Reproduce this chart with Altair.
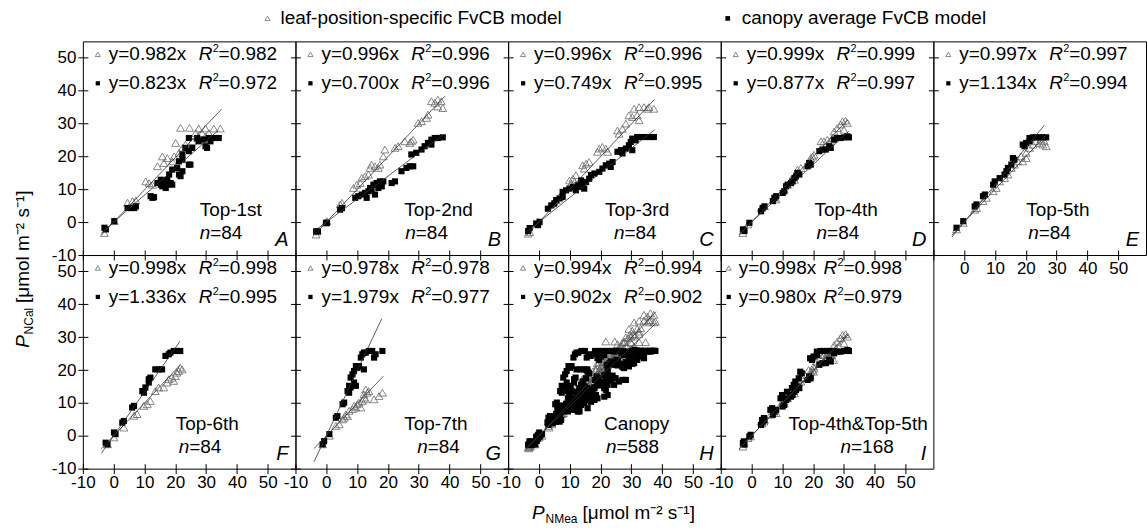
import altair as alt
import pandas as pd

# ---------------- values ----------------
PANELS = ["A", "B", "C", "D", "E", "F", "G", "H", "I"]
POSITIONS = ["Top-1st", "Top-2nd", "Top-3rd", "Top-4th", "Top-5th",
             "Top-6th", "Top-7th", "Canopy", "Top-4th&Top-5th"]
N_OBS = [84, 84, 84, 84, 84, 84, 84, 588, 168]
SLOPE_LEAF = [0.982, 0.996, 0.996, 0.999, 0.997, 0.998, 0.978, 0.994, 0.998]
R2_LEAF = [0.982, 0.996, 0.996, 0.999, 0.997, 0.998, 0.978, 0.994, 0.998]
SLOPE_CAN = [0.823, 0.700, 0.749, 0.877, 1.134, 1.336, 1.979, 0.902, 0.980]
R2_CAN = [0.972, 0.996, 0.995, 0.997, 0.994, 0.995, 0.977, 0.902, 0.979]
FIT_START = [-4, -4, -4, -4, -4, -4, -4, -4, -4]
FIT_END_LEAF = [35, 38.5, 37.5, 31, 26.5, 21.5, 18.5, 38, 31]
FIT_END_CAN = [34, 38, 37.5, 31.5, 26, 21.5, 18, 38, 31.5]
X_TICKS = [-10, 0, 10, 20, 30, 40, 50]
Y_TICKS = [-10, 0, 10, 20, 30, 40, 50]

A_TRI_X = [-3.0, 0.2, 4.5, 6.1, 7.2, 10.4, 11.5, 12.6, 14.2, 15.8, 16.3, 17.4, 19.0, 19.6, 20.1, 21.2, 22.3, 23.3,
           21.7, 24.6, 27.6, 29.8, 32.5, 34.6, 26.6, 28.7, 30.9, 25.5, 27.6, 29.8]
A_TRI_Y = [-3.3, 0.3, 5.9, 6.4, 6.6, 12.4, 11.9, 11.4, 17.0, 20.0, 18.0, 19.5, 18.5, 20.0, 24.1, 21.1, 22.6, 23.6,
           28.7, 28.7, 28.5, 28.5, 28.5, 28.5, 27.1, 27.1, 27.1, 24.6, 25.6, 26.1]
A_SQ_X = [-3.0, -2.5, 0.2, 4.5, 5.6, 6.7, 7.2, 12.0, 12.6, 13.1, 14.2, 15.3, 15.8, 16.9, 17.4, 18.5, 19.0, 16.3, 15.3,
          17.4, 18.0, 19.0, 20.6, 21.2, 22.3, 21.2, 22.3, 24.4, 24.9, 22.3, 24.4, 25.5, 23.3, 24.4, 27.1, 27.6, 29.2,
          30.9, 32.5, 34.1, 29.8, 30.3, 31.4, 21.7]
A_SQ_Y = [-1.7, -2.2, 0.3, 4.3, 4.3, 4.3, 4.8, 7.9, 7.4, 7.6, 11.9, 11.4, 10.9, 10.4, 11.4, 11.9, 11.4, 12.4, 12.9,
          12.9, 14.5, 16.0, 16.5, 18.5, 19.0, 14.5, 15.5, 17.5, 17.5, 20.6, 21.6, 22.6, 22.6, 25.6, 25.6, 24.6, 25.1,
          25.6, 25.6, 25.6, 23.1, 22.6, 24.6, 14.0]

B_TRI_X = [-3.3, -3.0, -0.3, 0.2, 5.1, 4.5, 8.8, 9.9, 11.0, 11.5, 12.6, 13.7, 14.2, 14.7, 15.8, 16.9, 17.4, 18.5, 19.0,
           22.3, 23.3, 25.5, 27.1, 28.2, 27.6, 29.8, 30.9, 32.5, 33.0, 34.1, 35.2, 36.2, 37.3, 37.8, 36.2]
B_TRI_Y = [-3.8, -2.8, -0.2, 0.3, 5.9, 5.4, 10.4, 11.4, 11.9, 13.5, 14.0, 14.5, 16.5, 17.5, 17.0, 16.5, 17.5, 20.0,
           22.1, 22.6, 23.1, 24.6, 24.1, 25.1, 24.6, 30.2, 30.7, 31.7, 32.7, 36.8, 36.3, 37.3, 36.8, 34.7, 35.2]
B_SQ_X = [-3.3, -2.7, -0.1, 0.2, 4.5, 5.1, 9.4, 10.4, 11.5, 12.6, 13.1, 13.7, 14.2, 14.7, 15.3, 15.8, 16.3, 16.9, 17.4,
          18.0, 18.5, 21.2, 22.3, 24.4, 26.0, 27.1, 28.2, 27.6, 29.2, 30.9, 31.9, 33.0, 34.1, 35.2, 36.2, 37.8, 34.1]
B_SQ_Y = [-2.8, -2.8, -0.2, -0.2, 3.8, 4.3, 7.4, 7.9, 8.4, 8.9, 7.4, 9.4, 10.4, 9.9, 11.4, 8.4, 11.9, 10.4, 12.4, 10.9,
          12.4, 11.9, 12.4, 15.5, 16.5, 17.0, 17.0, 20.6, 21.1, 22.1, 23.1, 24.1, 25.1, 25.6, 25.6, 25.8, 23.6]

C_TRI_X = [-3.5, -3.0, -0.3, 4.5, 5.6, 6.7, 9.9, 11.0, 11.5, 10.4, 12.0, 14.2, 15.3, 16.3, 14.7, 19.6, 20.6, 21.7,
           22.3, 19.0, 25.5, 27.1, 26.0, 28.2, 29.2, 30.3, 31.9, 32.5, 30.9, 32.5, 34.1, 35.7, 37.3, 35.2]
C_TRI_Y = [-3.5, -3.0, 0.1, 5.7, 6.7, 7.7, 12.7, 13.2, 12.2, 11.7, 14.3, 17.3, 17.8, 18.3, 16.3, 22.4, 22.9, 22.4,
           21.4, 21.4, 27.9, 28.4, 26.9, 30.0, 32.5, 32.0, 32.5, 31.0, 34.5, 35.0, 35.0, 35.0, 34.5, 34.5]
C_SQ_X = [-3.5, -3.0, -0.9, -0.3, 0.2, 2.9, 4.0, 5.0, 5.6, 6.7, 7.7, 7.7, 8.8, 9.9, 11.0, 12.0, 12.6, 13.1, 14.2, 14.7,
          13.7, 15.3, 16.3, 16.9, 18.0, 19.6, 20.6, 21.7, 22.8, 23.9, 23.3, 25.5, 26.6, 27.1, 28.2, 29.2, 29.8, 30.3,
          31.4, 31.9, 33.0, 34.6, 36.2, 37.3, 30.3]
C_SQ_Y = [-2.7, -1.8, -0.4, -0.9, 0.1, 4.1, 5.1, 5.7, 6.7, 7.2, 7.7, 9.2, 9.7, 10.2, 10.7, 9.7, 11.2, 10.7, 11.7, 10.2,
          12.7, 12.2, 13.2, 14.3, 14.8, 15.3, 16.3, 17.3, 17.8, 18.3, 16.8, 21.4, 21.9, 20.9, 22.4, 23.4, 24.4, 25.4,
          24.9, 25.9, 25.9, 25.9, 25.9, 25.9, 21.9]

D_TRI_X = [-2.8, -1.2, 3.1, 4.2, 7.4, 8.0, 10.6, 11.7, 12.8, 13.9, 14.9, 16.0, 18.2, 19.2, 19.8, 20.3, 22.5, 23.5,
           24.6, 25.7, 26.2, 26.8, 27.8, 28.9, 29.5, 30.5, 31.1, 30.0]
D_TRI_Y = [-3.3, -0.7, 4.3, 4.8, 7.4, 6.9, 9.9, 11.4, 12.9, 12.9, 16.0, 16.5, 17.5, 19.5, 20.0, 20.5, 24.6, 24.6,
           25.1, 24.6, 25.6, 27.6, 28.6, 29.7, 30.7, 30.9, 30.2, 28.1]
D_SQ_X = [-2.8, -2.3, -0.7, 3.1, 3.6, 4.2, 6.9, 7.4, 8.0, 10.1, 10.6, 11.2, 11.7, 12.8, 13.3, 13.9, 14.4, 14.9, 15.5,
          18.2, 18.7, 19.2, 22.0, 23.0, 24.1, 25.7, 25.2, 26.8, 27.8, 28.9, 30.0, 31.1, 31.6]
D_SQ_Y = [-2.2, -2.7, -0.2, 3.3, 4.3, 4.8, 6.4, 7.4, 7.9, 8.9, 9.4, 10.9, 11.4, 11.9, 12.4, 13.4, 13.9, 15.0, 14.5,
          17.0, 18.0, 17.5, 21.6, 22.1, 22.1, 22.6, 23.1, 25.1, 25.6, 25.6, 25.8, 26.1, 25.8]

E_TRI_X = [-2.5, -0.3, 3.4, 4.0, 6.1, 7.2, 9.4, 10.4, 11.5, 13.1, 14.2, 15.3, 16.3, 17.4, 18.5, 20.1, 21.2, 22.3,
           23.3, 24.4, 25.5, 24.9, 26.0, 26.6, 20.1, 19.0]
E_TRI_Y = [-2.2, -0.2, 3.8, 4.3, 6.4, 7.4, 9.4, 10.4, 12.4, 13.4, 14.5, 16.5, 17.5, 18.5, 20.0, 21.1, 22.6, 23.6,
           24.6, 24.1, 23.6, 25.1, 24.6, 23.1, 19.5, 18.5]
E_SQ_X = [-2.5, -0.3, 3.4, 4.0, 6.1, 6.7, 9.4, 9.9, 11.5, 13.1, 13.7, 14.2, 15.3, 16.3, 15.8, 19.0, 20.1, 19.6, 21.2,
          22.3, 23.3, 24.4, 25.5, 26.6, 21.2]
E_SQ_Y = [-1.7, 0.3, 4.8, 5.4, 7.9, 8.4, 11.4, 12.4, 13.4, 14.5, 15.5, 16.5, 17.5, 19.0, 19.5, 23.6, 24.1, 23.1, 25.6,
          25.8, 25.8, 25.8, 25.8, 25.8, 24.6]

F_TRI_X = [-2.0, 0.1, 3.3, 6.6, 7.6, 9.8, 10.9, 11.9, 13.5, 14.6, 16.2, 17.3, 17.9, 18.9, 20.0, 21.1, 21.6, 20.5, 19.5,
           22.2]
F_TRI_Y = [-2.6, -0.5, 2.5, 6.1, 6.6, 9.1, 9.6, 10.6, 13.6, 14.7, 14.7, 16.2, 17.2, 17.7, 18.2, 19.7, 20.7, 19.2, 16.7,
           20.2]
F_SQ_X = [-2.6, -2.0, 0.1, 0.6, 3.3, 2.8, 6.0, 6.6, 9.3, 9.8, 10.3, 11.4, 11.9, 11.4, 13.5, 14.6, 15.7, 16.8, 17.9,
          18.4, 19.5, 20.5, 21.6]
F_SQ_Y = [-2.1, -2.6, 1.0, 0.5, 4.5, 4.0, 8.6, 9.1, 13.6, 13.1, 14.7, 17.2, 17.7, 16.2, 20.2, 20.2, 20.2, 24.3, 24.8,
          25.3, 25.8, 25.8, 25.8]

G_TRI_X = [-1.2, 1.0, 3.1, 4.2, 5.3, 5.8, 6.9, 6.3, 7.4, 8.5, 9.0, 9.6, 10.1, 10.6, 11.2, 11.7, 12.2, 12.8, 12.2, 13.3,
           13.8, 12.8, 15.5, 17.1, 18.2]
G_TRI_Y = [-2.6, 0.0, 3.0, 3.5, 5.0, 5.5, 6.0, 6.5, 7.6, 8.1, 9.1, 8.6, 9.6, 10.1, 8.6, 10.6, 11.6, 11.1, 12.6, 13.1,
           13.6, 14.1, 11.1, 12.1, 13.1]
G_SQ_X = [-1.2, -0.7, 1.0, 3.1, 3.6, 5.3, 5.8, 6.9, 7.4, 7.9, 7.4, 7.9, 8.5, 9.0, 9.6, 10.1, 9.0, 9.6, 10.6, 11.2, 11.7,
          12.2, 12.8, 13.8, 14.9, 16.0, 18.2, 15.5, 12.2]
G_SQ_Y = [-2.6, -1.6, 0.5, 5.5, 6.0, 9.6, 10.1, 13.6, 15.2, 14.7, 13.1, 17.7, 18.7, 19.7, 21.2, 20.7, 16.2, 15.2, 21.2,
          23.8, 24.8, 25.3, 25.3, 25.8, 25.8, 24.8, 25.8, 23.8, 20.2]

# Canopy pools the seven leaf positions; Top-4th&Top-5th pools D and E
TRI_X = {"A": A_TRI_X, "B": B_TRI_X, "C": C_TRI_X, "D": D_TRI_X, "E": E_TRI_X, "F": F_TRI_X, "G": G_TRI_X}
TRI_Y = {"A": A_TRI_Y, "B": B_TRI_Y, "C": C_TRI_Y, "D": D_TRI_Y, "E": E_TRI_Y, "F": F_TRI_Y, "G": G_TRI_Y}
SQ_X = {"A": A_SQ_X, "B": B_SQ_X, "C": C_SQ_X, "D": D_SQ_X, "E": E_SQ_X, "F": F_SQ_X, "G": G_SQ_X}
SQ_Y = {"A": A_SQ_Y, "B": B_SQ_Y, "C": C_SQ_Y, "D": D_SQ_Y, "E": E_SQ_Y, "F": F_SQ_Y, "G": G_SQ_Y}
for src, dst in [("ABCDEFG", "H"), ("DE", "I")]:
    TRI_X[dst] = sum((TRI_X[k] for k in src), [])
    TRI_Y[dst] = sum((TRI_Y[k] for k in src), [])
    SQ_X[dst] = sum((SQ_X[k] for k in src), [])
    SQ_Y[dst] = sum((SQ_Y[k] for k in src), [])

# ---------------- layout / style ----------------
FONT = "Liberation Sans"
W, H = 213, 214
EMPTY = alt.Data(values=[{}])
TXT = 19
LABEL_X = {"A": 117, "B": 109, "C": 97, "D": 94, "E": 93, "F": 93, "G": 109, "H": 96, "I": 68}
NTXT_X = {"A": 117, "B": 110, "C": 106, "D": 96, "E": 95, "F": 96, "G": 122, "H": 98, "I": 120}
EQ_X = {p: (15, 26, 116) for p in PANELS}
EQ_X["I"] = (8, 18, 103)


def txt(s, x, y, size=TXT, italic=False, align="left", baseline="middle", angle=0):
    kw = dict(text=s, fontSize=size, font=FONT, align=align, baseline=baseline, color="black")
    if italic:
        kw["fontStyle"] = "italic"
    if angle:
        kw["angle"] = angle
    return alt.Chart(EMPTY).mark_text(**kw).encode(x=alt.value(x), y=alt.value(y))


def sym(shape, x, y, size, filled, color):
    return alt.Chart(EMPTY).mark_point(shape=shape, size=size, filled=filled, color=color,
                                       opacity=1, strokeWidth=0.8).encode(x=alt.value(x), y=alt.value(y))


def spacer(x, y):
    return alt.Chart(EMPTY).mark_rect(opacity=0).encode(
        x=alt.value(x), x2=alt.value(x + 1), y=alt.value(y), y2=alt.value(y + 1))


def make_panel(i, col, row):
    p = PANELS[i]
    show_x = row == 1 or p == "E"
    show_y = col == 0
    xs = alt.Scale(domain=[-10, 59], nice=False, zero=False)
    ys = alt.Scale(domain=[-10, 55], nice=False, zero=False)
    xexpr = "datum.value < -5 ? '' : '' + datum.value" if p == "E" else "'' + datum.value"
    ax_x = alt.Axis(values=X_TICKS, labels=show_x, tickSize=10, offset=-5, labelPadding=1,
                    labelFlush=False, labelOverlap=False, title=None, domain=False, grid=False,
                    labelExpr=xexpr)
    ax_y = alt.Axis(values=Y_TICKS, labels=show_y, tickSize=10, offset=-5, labelPadding=2,
                    labelFlush=False, labelOverlap=False, title=None, domain=False, grid=False,
                    labelExpr="'' + datum.value")
    X = alt.X("x:Q", scale=xs, axis=ax_x)
    Y = alt.Y("y:Q", scale=ys, axis=ax_y)

    tri = alt.Chart(pd.DataFrame({"x": TRI_X[p], "y": TRI_Y[p]})).mark_point(
        shape="triangle-up", filled=False, size=62, color="#6a6a6a", strokeWidth=0.8, opacity=1
    ).encode(x=X, y=Y)
    sq = alt.Chart(pd.DataFrame({"x": SQ_X[p], "y": SQ_Y[p]})).mark_point(
        shape="square", filled=True, size=38, color="black", opacity=1
    ).encode(x=X, y=Y)
    fit = pd.DataFrame({
        "x": [FIT_START[i], FIT_END_LEAF[i], FIT_START[i], FIT_END_CAN[i]],
        "k": [SLOPE_LEAF[i], SLOPE_LEAF[i], SLOPE_CAN[i], SLOPE_CAN[i]],
        "s": ["leaf", "leaf", "can", "can"],
    })
    lines = alt.Chart(fit).transform_calculate(y="datum.k * datum.x").mark_line(
        color="#333333", strokeWidth=0.8
    ).encode(x=X, y=Y, detail="s:N")

    sx, tx, rx = EQ_X[p]
    layers = [tri, sq, lines]
    for (yy, shape, filled, color, ssize, k, r2) in [
        (13, "triangle-up", False, "#6a6a6a", 26, SLOPE_LEAF[i], R2_LEAF[i]),
        (42, "square", True, "black", 18, SLOPE_CAN[i], R2_CAN[i]),
    ]:
        layers += [
            sym(shape, sx, yy, ssize, filled, color),
            txt(f"y={k:.3f}x", tx, yy),
            txt("R", rx, yy, italic=True),
            txt("2", rx + 14, yy - 5, size=11),
            txt(f"={r2:.3f}", rx + 20, yy),
        ]
    layers += [
        txt(POSITIONS[i], LABEL_X[p], 169),
        txt("n", NTXT_X[p], 192, italic=True),
        txt(f"={N_OBS[i]}", NTXT_X[p] + 10.5, 192),
        txt(p, 206, 199, size=20, italic=True, align="right"),
    ]
    if p == "A":
        layers += [
            sym("triangle-up", 185, -23, 26, False, "#6a6a6a"),
            txt("leaf-position-specific FvCB model", 198, -23, size=19),
            sym("square", 646, -23, 22, True, "black"),
            txt("canopy average FvCB model", 660, -23, size=19),
            spacer(-82, -40),
        ]
    if p == "F":
        layers += [
            # y-axis title (rotated), centred on the two rows
            txt("P", -54, 93, size=19, italic=True, baseline="alphabetic", angle=270),
            txt("NCal", -50, 79.5, size=12, baseline="alphabetic", angle=270),
            txt("[μmol m⁻² s⁻¹]", -54, 48, size=19, baseline="alphabetic", angle=270),
            spacer(0, 274),
        ]
    if p == "H":
        layers += [
            txt("P", 24, 264, size=19, italic=True, baseline="alphabetic"),
            txt("NMea", 37.5, 268, size=12, baseline="alphabetic"),
            txt("[μmol m⁻² s⁻¹]", 74.5, 264, size=19, baseline="alphabetic"),
        ]
    return alt.layer(*layers).properties(width=W, height=H)


panels = [make_panel(i, i % 5, i // 5) for i in range(9)]

chart = (
    alt.concat(*panels, columns=5, spacing=0, bounds="flush")
    .properties(padding=0, background="white")
    .configure_view(stroke="black", strokeWidth=1)
    .configure_axis(labelFont=FONT, labelFontSize=17, labelColor="black",
                    tickColor="black", tickWidth=1)
)

chart.save("out.html", embed_options={"renderer": "svg", "actions": False})
